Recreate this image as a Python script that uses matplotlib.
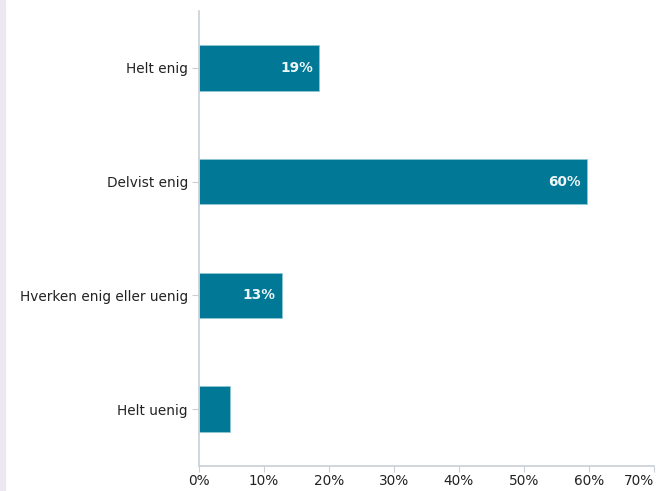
import matplotlib.pyplot as plt
from matplotlib.patches import Rectangle

# survey answers, top to bottom
categories = ["Helt enig", "Delvist enig", "Hverken enig eller uenig", "Helt uenig"]
values = [18.5, 59.7, 12.7, 4.7]
labels = ["19%", "60%", "13%", ""]
xticks = [0, 10, 20, 30, 40, 50, 60, 70]

W, H = 656, 491
fig = plt.figure(figsize=(W / 100, H / 100), dpi=100)
ax = fig.add_axes([199 / W, 1 - 466 / H, 455 / W, 455 / H])

# thin lavender strip on the left edge
fig.patches.append(Rectangle((0, 0), 5 / W, 1, transform=fig.transFigure,
                             color="#ece7f1", zorder=0))

y = list(range(len(categories)))
bars = ax.barh(y, values, height=0.4, color="#007896", edgecolor="#8fc6d3",
               linewidth=0.6)
for bar, lab in zip(bars, labels):
    if lab:
        ax.text(bar.get_width() - 1.0, bar.get_y() + bar.get_height() / 2, lab,
                ha="right", va="center", color="#eef6f8", fontsize=9.8,
                fontweight="bold")

ax.set_ylim(len(categories) - 0.5, -0.5)
ax.set_xlim(0, 70)
ax.set_yticks(y)
ax.set_yticklabels(categories, fontsize=9.8, color="#222222")
ax.set_xticks(xticks)
ax.set_xticklabels([f"{t}%" for t in xticks], fontsize=9.8, color="#222222")
# last label pulled inside the figure, as in the original
ax.get_xticklabels()[-1].set_horizontalalignment("right")
ax.get_xticklabels()[-1].set_x(69.7)

for side in ["top", "right"]:
    ax.spines[side].set_visible(False)
ax.spines["left"].set_color("#c8d0d6")
ax.spines["bottom"].set_color("#c8d0d6")
ax.spines["left"].set_linewidth(1.2)
ax.spines["bottom"].set_linewidth(1.2)
ax.tick_params(axis="y", length=5, color="#c8d0d6", pad=3)
ax.tick_params(axis="x", length=4, color="#c8d0d6", pad=1.5)

fig.savefig("out.png", dpi=100)
